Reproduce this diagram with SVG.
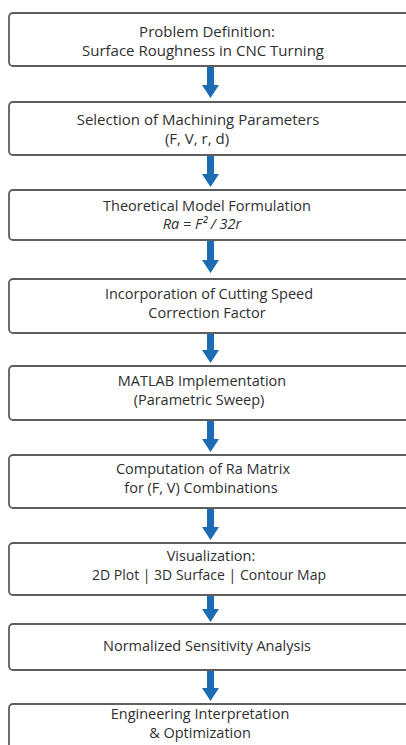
<svg xmlns="http://www.w3.org/2000/svg" width="406" height="745" viewBox="0 0 406 745">
<defs>
<style>
.box{fill:#ffffff;stroke:#5e5e5e;stroke-width:1.8}
.t{font-family:"Open Sans","Noto Sans","DejaVu Sans",sans-serif;font-size:14.5px;fill:#2f2f2f;text-anchor:middle}
.ar{fill:#1d6bb3}
</style>
</defs>
<rect width="406" height="745" fill="#ffffff"/>
<g id="connectors">
<path class="ar" d="M207 66 h7 v19 h5 l-8.5 13 l-8.5 -13 h5 z"/>
<path class="ar" d="M207 155 h7 v19 h5 l-8.5 13 l-8.5 -13 h5 z"/>
<path class="ar" d="M207 240 h7 v20 h5 l-8.5 13 l-8.5 -13 h5 z"/>
<path class="ar" d="M207 333 h7 v17 h5 l-8.5 13 l-8.5 -13 h5 z"/>
<path class="ar" d="M207 420 h7 v19 h5 l-8.5 13 l-8.5 -13 h5 z"/>
<path class="ar" d="M207 508 h7 v19 h5 l-8.5 13 l-8.5 -13 h5 z"/>
<path class="ar" d="M207 595 h7 v14 h5 l-8.5 13 l-8.5 -13 h5 z"/>
<path class="ar" d="M207 670 h7 v18 h5 l-8.5 13 l-8.5 -13 h5 z"/>
</g>
<g id="n1"><rect class="box" x="9" y="13" width="402" height="53" rx="4"/>
<text class="t" x="207" y="37" style="font-size:15px">Problem Definition:</text>
<text class="t" x="203" y="56" style="font-size:15px">Surface Roughness in CNC Turning</text></g>
<g id="n2"><rect class="box" x="9" y="102" width="402" height="53" rx="4"/>
<text class="t" x="198" y="125" style="font-size:15px">Selection of Machining Parameters</text>
<text class="t" x="197" y="144" style="font-size:15px">(F, V, r, d)</text></g>
<g id="n3"><rect class="box" x="9" y="190" width="402" height="50" rx="4"/>
<text class="t" x="207" y="211">Theoretical Model Formulation</text>
<text class="t" x="202" y="229" font-style="italic">Ra = F² / 32r</text></g>
<g id="n4"><rect class="box" x="9" y="279" width="402" height="54" rx="4"/>
<text class="t" x="209" y="299">Incorporation of Cutting Speed</text>
<text class="t" x="207" y="318">Correction Factor</text></g>
<g id="n5"><rect class="box" x="9" y="366" width="402" height="54" rx="4"/>
<text class="t" x="202" y="386">MATLAB Implementation</text>
<text class="t" x="199" y="405">(Parametric Sweep)</text></g>
<g id="n6"><rect class="box" x="9" y="455" width="402" height="53" rx="4"/>
<text class="t" x="203" y="474">Computation of Ra Matrix</text>
<text class="t" x="201" y="493">for (F, V) Combinations</text></g>
<g id="n7"><rect class="box" x="9" y="543" width="402" height="52" rx="4"/>
<text class="t" x="211" y="561">Visualization:</text>
<text class="t" x="209" y="580" style="font-size:14px">2D Plot | 3D Surface | Contour Map</text></g>
<g id="n8"><rect class="box" x="9" y="624" width="402" height="46" rx="4"/>
<text class="t" x="207" y="651">Normalized Sensitivity Analysis</text></g>
<g id="n9"><rect class="box" x="9" y="704" width="402" height="60" rx="4"/>
<text class="t" x="200" y="719">Engineering Interpretation</text>
<text class="t" x="200" y="738">&amp; Optimization</text></g>
</svg>
